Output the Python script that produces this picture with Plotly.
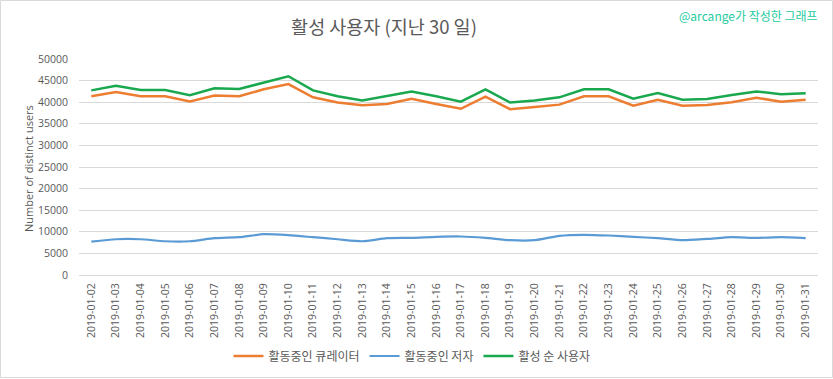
import plotly.graph_objects as go

dates = ["2019-01-%02d" % d for d in range(2, 32)]

curators = [41370, 42340, 41370, 41370, 40160, 41530, 41370, 42980, 44200, 41130,
            39920, 39270, 39600, 40810, 39600, 38470, 41290, 38390, 38870, 39440,
            41370, 41370, 39190, 40570, 39190, 39350, 40000, 41050, 40080, 40570]
authors = [7730, 8280, 8280, 7810, 7810, 8520, 8750, 9450, 9220, 8750,
           8280, 7810, 8520, 8590, 8830, 8910, 8590, 8050, 8050, 9060,
           9300, 9140, 8830, 8520, 8050, 8360, 8750, 8590, 8750, 8520]
unique_users = [42740, 43790, 42820, 42820, 41610, 43230, 43070, 44600, 46000, 42740,
                41370, 40400, 41370, 42500, 41370, 40120, 42980, 39920, 40400, 41130,
                42980, 42980, 40810, 42100, 40570, 40730, 41690, 42500, 41850, 42100]

series_names = ["활동중인 큐레이터", "활동중인 저자", "활성 순 사용자"]
colors = ["#ED7D31", "#5B9BD5", "#1AA84F"]

FONT = "'Open Sans', 'Noto Sans CJK KR', sans-serif"
KFONT = "'Noto Sans CJK KR', 'Open Sans', sans-serif"
GRAY = "#595959"

W, H = 833, 379
L, R, T, B = 79, 15, 59, 104
pw, ph = W - L - R, H - T - B

def px_x(x):
    return (x - L) / pw

def px_y(y):
    return (H - B - y) / ph

fig = go.Figure()
fig.add_trace(go.Scatter(x=dates, y=curators, name=series_names[0], mode="lines",
                         line=dict(color=colors[0], width=2.5)))
fig.add_trace(go.Scatter(x=dates, y=authors, name=series_names[1], mode="lines",
                         line=dict(color=colors[1], width=2.2, shape="spline", smoothing=0.6)))
fig.add_trace(go.Scatter(x=dates, y=unique_users, name=series_names[2], mode="lines",
                         line=dict(color=colors[2], width=2.5)))

fig.update_layout(
    width=W, height=H,
    margin=dict(l=L, r=R, t=T, b=B, autoexpand=False),
    paper_bgcolor="white", plot_bgcolor="white",
    font=dict(family=FONT, color=GRAY, size=11),
    title=dict(text="활성 사용자 (지난 30 일)", xref="container", x=384 / W, xanchor="center",
               yref="container", y=1 - 28 / H, yanchor="middle",
               font=dict(family=KFONT, size=18.5, color=GRAY)),
    xaxis=dict(type="category", tickangle=-90, showgrid=False,
               range=[-0.5, len(dates) - 0.5],
               showline=True, linecolor="#d9d9d9", linewidth=1,
               tickfont=dict(size=10.5, color=GRAY, family=FONT),
               ticks="", ticklabelstandoff=3),
    yaxis=dict(range=[0, 50000], dtick=5000, tickformat="d",
               showgrid=True, gridcolor="#d9d9d9", gridwidth=1,
               zeroline=False, showline=False, ticks="",
               tickfont=dict(size=10.5, color=GRAY, family=FONT),
               ticklabelstandoff=10),
    legend=dict(orientation="h", x=px_x(412), xanchor="center", y=px_y(356), yanchor="middle",
                font=dict(family=KFONT, size=12, color=GRAY), itemwidth=30,
                bgcolor="rgba(0,0,0,0)"),
    showlegend=True,
)

fig.add_annotation(text="Number of distinct users", xref="paper", yref="paper",
                   x=px_x(28), y=px_y(168), xanchor="center", yanchor="middle",
                   textangle=-90, showarrow=False,
                   font=dict(family=FONT, size=11, color=GRAY))
fig.add_annotation(text="@arcange가 작성한 그래프", xref="paper", yref="paper",
                   x=px_x(820), y=px_y(16), xanchor="right", yanchor="middle",
                   showarrow=False,
                   font=dict(family=KFONT, size=12, color="#1ECBA0"))
fig.add_shape(type="rect", xref="paper", yref="paper",
              x0=px_x(0.5), x1=px_x(832.5), y0=px_y(377.5), y1=px_y(0.5),
              line=dict(color="#d9d9d9", width=1), fillcolor="rgba(0,0,0,0)", layer="below")

fig.write_html("out.html",
               config={"displayModeBar": False},
               post_script="document.body.style.margin='0';document.body.style.padding='0';"
                           "document.body.style.overflow='hidden';")
